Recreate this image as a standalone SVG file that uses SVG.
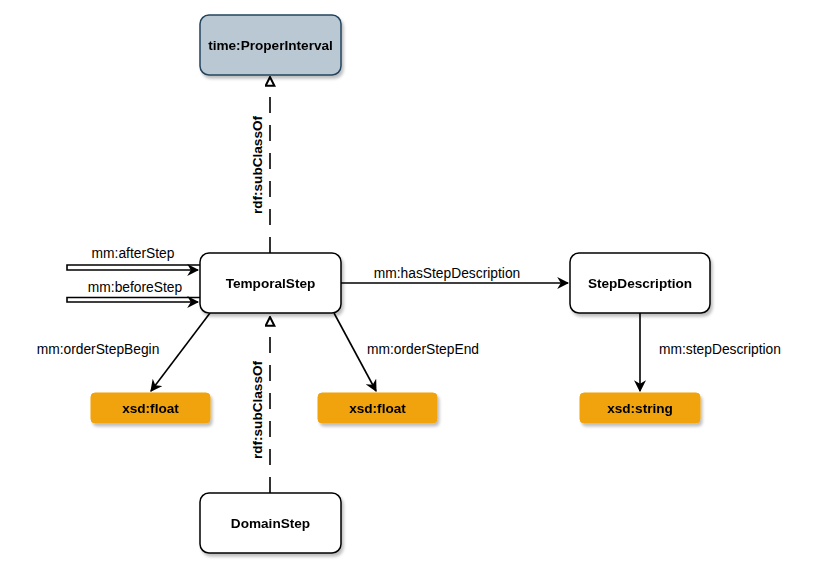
<svg xmlns="http://www.w3.org/2000/svg" width="820" height="571" viewBox="0 0 820 571">
<defs>
<filter id="sh" x="-10%" y="-10%" width="130%" height="140%">
<feDropShadow dx="2" dy="3" stdDeviation="1.5" flood-color="#000" flood-opacity="0.25"/>
</filter>
<marker id="arr" viewBox="0 0 10 10" refX="9" refY="5" markerWidth="12" markerHeight="12" markerUnits="userSpaceOnUse" orient="auto">
<path d="M0,0 L10,5 L0,10 L3,5 Z" fill="#000"/>
</marker>
<marker id="tri" viewBox="0 0 10 10" refX="9" refY="5" markerWidth="11" markerHeight="11" markerUnits="userSpaceOnUse" orient="auto">
<path d="M1,1 L9,5 L1,9 Z" fill="#fff" stroke="#000" stroke-width="1.8"/>
</marker>
</defs>
<style>
.n{fill:#fff;stroke:#000;stroke-width:1.5}
.c{fill:#bac8d3;stroke:#23445d;stroke-width:1.5}
.d{fill:#f0a30a;stroke:#f0a30a}
.t{font-family:"Liberation Sans",Arial,sans-serif;font-size:13.6px;font-weight:bold;text-anchor:middle;dominant-baseline:central;fill:#000}
.l{font-family:"Liberation Sans",Arial,sans-serif;font-size:13.8px;text-anchor:middle;dominant-baseline:central;fill:#000}
.lb{font-family:"Liberation Sans",Arial,sans-serif;font-size:13.6px;font-weight:bold;text-anchor:middle;dominant-baseline:central;fill:#000}
.e{fill:none;stroke:#000;stroke-width:1.6}
.s{fill:none;stroke:#000;stroke-width:1.6;stroke-dasharray:16 12}
</style>
<g id="connectors">
<path class="s" d="M270,253 V77" marker-end="url(#tri)"/>
<text class="lb" transform="translate(257,165) rotate(-90)">rdf:subClassOf</text>
<path class="s" d="M270,493 V317" marker-end="url(#tri)"/>
<text class="lb" transform="translate(257,410) rotate(-90)">rdf:subClassOf</text>
<path class="e" d="M200,265 H67 V270 H198" marker-end="url(#arr)"/>
<text class="l" x="133" y="253">mm:afterStep</text>
<path class="e" d="M200,297.5 H67 V302 H198" marker-end="url(#arr)"/>
<text class="l" x="135" y="287">mm:beforeStep</text>
<path class="e" d="M341,283 H568" marker-end="url(#arr)"/>
<text class="l" x="447" y="273">mm:hasStepDescription</text>
<path class="e" d="M210,313 L151,391" marker-end="url(#arr)"/>
<text class="l" x="98" y="349">mm:orderStepBegin</text>
<path class="e" d="M334,313 L376,391" marker-end="url(#arr)"/>
<text class="l" x="423" y="349">mm:orderStepEnd</text>
<path class="e" d="M640,313 V391" marker-end="url(#arr)"/>
<text class="l" x="720" y="349">mm:stepDescription</text>
</g>
<g id="ProperInterval" filter="url(#sh)">
<rect class="c" x="200" y="15" width="141" height="60" rx="9"/>
<text class="t" x="270.5" y="45">time:ProperInterval</text>
</g>
<g id="TemporalStep" filter="url(#sh)">
<rect class="n" x="200" y="253" width="141" height="60" rx="9"/>
<text class="t" x="270.5" y="283">TemporalStep</text>
</g>
<g id="StepDescription" filter="url(#sh)">
<rect class="n" x="570" y="253" width="140" height="60" rx="9"/>
<text class="t" x="640" y="283">StepDescription</text>
</g>
<g id="DomainStep" filter="url(#sh)">
<rect class="n" x="200" y="493" width="141" height="60" rx="9"/>
<text class="t" x="270.5" y="523">DomainStep</text>
</g>
<g id="float1" filter="url(#sh)">
<rect class="d" x="91" y="393" width="119" height="30" rx="4"/>
<text class="t" x="150.5" y="408">xsd:float</text>
</g>
<g id="float2" filter="url(#sh)">
<rect class="d" x="318" y="393" width="119" height="30" rx="4"/>
<text class="t" x="377.5" y="408">xsd:float</text>
</g>
<g id="string" filter="url(#sh)">
<rect class="d" x="580" y="393" width="120" height="30" rx="4"/>
<text class="t" x="640" y="408">xsd:string</text>
</g>
</svg>
